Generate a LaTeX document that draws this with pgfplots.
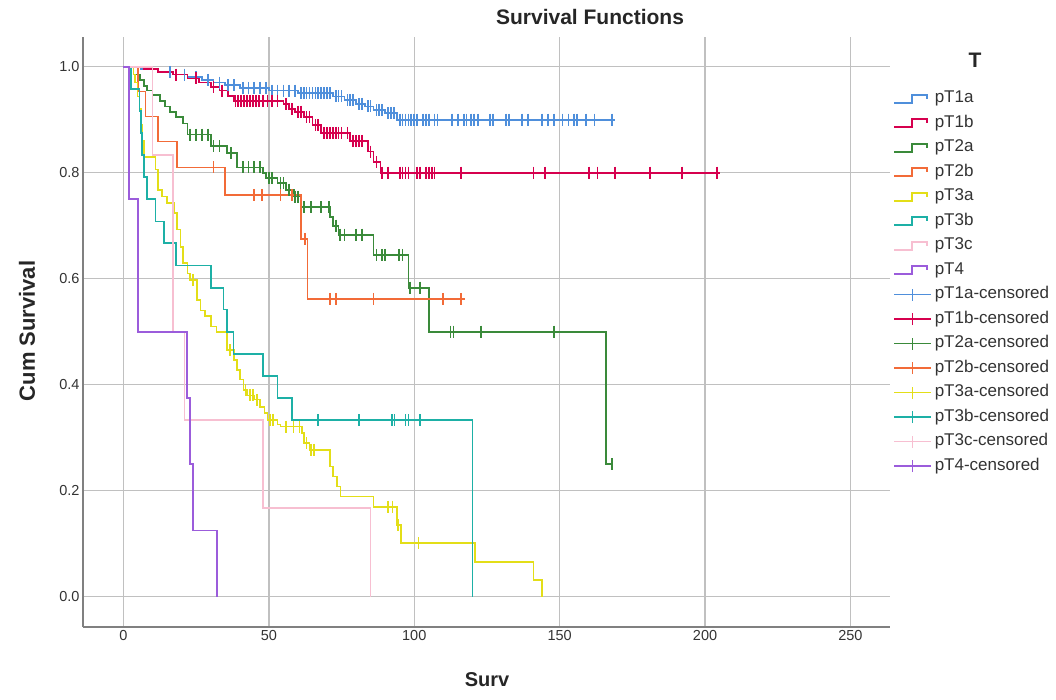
\documentclass[border=0pt]{standalone}
\usepackage{fontspec}
\setmainfont{Liberation Sans}
\usepackage{pgfplots}
\pgfplotsset{compat=1.18}

\definecolor{cTa}{HTML}{4F8FDB}
\definecolor{cTb}{HTML}{D6004E}
\definecolor{cTc}{HTML}{3A8A3A}
\definecolor{cTd}{HTML}{F26B38}
\definecolor{cTe}{HTML}{E3DE18}
\definecolor{cTf}{HTML}{1DB0A6}
\definecolor{cTg}{HTML}{F7BFD1}
\definecolor{cTh}{HTML}{9B5CDB}
\definecolor{gridgray}{HTML}{C0C0C0}
\definecolor{axisgray}{HTML}{808080}

\pgfplotsset{
  km/.style={const plot, line width=1.7pt, mark=none,
    legend image code/.code={\draw[##1] (0pt,-4pt) -- (18pt,-4pt) -- (18pt,4pt) -- (33pt,4pt) -- (33pt,0pt);}},
  censor/.style={only marks, mark=|, mark size=6pt, mark options={line width=1.7pt},
    legend image code/.code={\draw[line width=1.5pt,##1] (0pt,0pt) -- (37pt,0pt); \draw[line width=1.5pt,##1] (18.5pt,-6pt) -- (18.5pt,6pt);}},
}

\begin{document}
\begin{tikzpicture}
\useasboundingbox (0pt,0pt) rectangle (1056pt,-699pt);
\begin{axis}[
  at={(83pt,-627pt)}, anchor=south west,
  scale only axis, width=807pt, height=590pt,
  xmin=-13.9, xmax=263.6, ymin=-0.057, ymax=1.056,
  axis x line*=bottom, axis y line*=left,
  axis line style={-, draw=axisgray, line width=1.5pt},
  xtick={0,50,100,150,200,250},
  ytick={0,0.2,0.4,0.6,0.8,1.0},
  grid=major, major grid style={draw=gridgray, line width=1.4pt},
  major tick length=0pt,
  /pgf/number format/assume math mode=true,
  tick label style={font=\fontsize{14.5}{16}\selectfont, text=black!80},
  yticklabel style={/pgf/number format/.cd, fixed, fixed zerofill, precision=1},
  clip=false,
  legend style={at={(axis description cs:1.0037,0.9085)}, anchor=north west,
    draw=none, fill=none, inner sep=0pt, row sep=9.5pt,
    font=\fontsize{17}{17}\selectfont, text=black!80,
    nodes={inner sep=0pt, text height=11.5pt, text depth=3.5pt},
    /tikz/every odd column/.append style={column sep=3pt}},
  legend cell align=left,
]
% Kaplan-Meier step curves
\addplot[km, cTa] coordinates {(0,1.0) (6,0.995) (12,0.99) (17,0.985) (22,0.98) (27,0.975) (31,0.97) (35,0.965) (40,0.96) (50,0.955) (60,0.95) (72,0.944) (76,0.937) (80,0.93) (83,0.925) (86,0.918) (90,0.912) (94,0.90) (169,0.90)};
\addlegendentry{pT1a}
\addplot[km, cTb] coordinates {(0,1.0) (7,0.995) (12,0.99) (17,0.985) (22,0.978) (26,0.97) (30,0.962) (33,0.955) (36,0.945) (38,0.935) (55,0.93) (57,0.92) (59,0.915) (62,0.905) (65,0.89) (68,0.875) (78,0.86) (84,0.84) (86,0.82) (88.4,0.80) (205,0.80)};
\addlegendentry{pT1b}
\addplot[km, cTc] coordinates {(0,1.0) (3.5,0.985) (5.8,0.975) (7,0.963) (8,0.955) (10,0.947) (12.5,0.935) (14.4,0.925) (16,0.915) (18,0.905) (20.6,0.893) (22,0.872) (30,0.85) (35.7,0.837) (39,0.81) (48,0.80) (49,0.79) (53,0.78) (56,0.768) (58.6,0.755) (61,0.735) (71,0.717) (72,0.70) (74,0.683) (86,0.645) (98,0.583) (105,0.50) (166,0.25) (168,0.25)};
\addlegendentry{pT2a}
\addplot[km, cTd] coordinates {(0,1.0) (5,0.953) (7.6,0.906) (12,0.859) (18.4,0.81) (35,0.758) (61,0.675) (63.3,0.562) (117.6,0.562)};
\addlegendentry{pT2b}
\addplot[km, cTe] coordinates {(0,1.0) (3.5,0.985) (4,0.97) (4.8,0.944) (5.5,0.92) (6,0.89) (6.5,0.86) (7,0.83) (11,0.806) (12,0.768) (13.3,0.755) (15,0.743) (17.3,0.724) (18.5,0.693) (19.6,0.66) (20.6,0.63) (22,0.61) (23,0.598) (25.4,0.56) (26.5,0.54) (28,0.53) (30,0.51) (32,0.50) (35.7,0.465) (38,0.447) (39,0.428) (40,0.41) (41.3,0.39) (42.5,0.38) (45,0.372) (47,0.358) (48.5,0.347) (49.5,0.334) (53,0.325) (54,0.321) (61.5,0.309) (62,0.29) (64,0.277) (71,0.246) (72,0.227) (73.5,0.208) (74.6,0.189) (86,0.17) (94,0.135) (95.5,0.101) (121,0.066) (141,0.032) (144,0)};
\addlegendentry{pT3a}
\addplot[km, cTf] coordinates {(0,1.0) (2.5,0.958) (5.5,0.917) (6,0.875) (6.5,0.833) (7,0.792) (8,0.75) (11,0.708) (14,0.667) (18,0.625) (30,0.583) (34.4,0.542) (35.6,0.50) (37.8,0.458) (48,0.417) (53,0.375) (58,0.333) (120,0)};
\addlegendentry{pT3b}
\addplot[km, cTg] coordinates {(0,1.0) (10,0.833) (17.1,0.5) (21,0.333) (48,0.167) (85,0)};
\addlegendentry{pT3c}
\addplot[km, cTh] coordinates {(0,1.0) (1.8,0.75) (5,0.5) (21.9,0.375) (22.8,0.25) (24,0.125) (32.2,0)};
\addlegendentry{pT4}
% censored observations
\addplot[censor, cTa] coordinates {(16,0.99) (21,0.985) (25,0.98) (29,0.975) (33,0.97) (36,0.965) (38,0.965) (41,0.96) (43,0.96) (45,0.96) (47,0.96) (49,0.96) (51,0.955) (53,0.955) (55,0.955) (57,0.955) (59,0.955) (61,0.95) (62,0.95) (63,0.95) (64,0.95) (65,0.95) (66,0.95) (67,0.95) (68,0.95) (69,0.95) (70,0.95) (71,0.95) (73,0.944) (74,0.944) (75,0.944) (77,0.937) (78,0.937) (79,0.937) (81,0.93) (82,0.93) (84,0.925) (85,0.925) (87,0.918) (88,0.918) (89,0.918) (91,0.912) (92,0.912) (93,0.912) (95,0.90) (96,0.90) (97,0.90) (98,0.90) (99,0.90) (100,0.90) (101,0.90) (103,0.90) (104,0.90) (105,0.90) (107,0.90) (108,0.90) (113,0.90) (115,0.90) (117,0.90) (118,0.90) (119.5,0.90) (120.6,0.90) (122,0.90) (126,0.90) (127,0.90) (131.5,0.90) (132.6,0.90) (137,0.90) (139,0.90) (144,0.90) (146,0.90) (148,0.90) (151,0.90) (153,0.90) (155,0.90) (156,0.90) (159,0.90) (162,0.90) (168,0.90)};
\addlegendentry{pT1a-censored}
\addplot[censor, cTb] coordinates {(18,0.985) (25,0.978) (31,0.962) (34,0.955) (38.5,0.935) (39.5,0.935) (40.5,0.935) (41.5,0.935) (42.5,0.935) (43.5,0.935) (44.5,0.935) (45.5,0.935) (46.5,0.935) (48,0.935) (49.5,0.935) (51,0.935) (53,0.935) (56,0.93) (58,0.92) (60,0.915) (61,0.915) (63,0.905) (64,0.905) (66,0.89) (67,0.89) (69,0.875) (70,0.875) (71,0.875) (72,0.875) (73,0.875) (74,0.875) (75,0.875) (77,0.875) (79,0.86) (80,0.86) (81,0.86) (82,0.86) (85,0.84) (87,0.82) (89,0.80) (91,0.80) (95,0.80) (96,0.80) (97,0.80) (98,0.80) (101,0.80) (102,0.80) (104,0.80) (105,0.80) (106,0.80) (107,0.80) (116,0.80) (141,0.80) (145,0.80) (160,0.80) (163,0.80) (169,0.80) (181,0.80) (192,0.80) (204,0.80)};
\addlegendentry{pT1b-censored}
\addplot[censor, cTc] coordinates {(23,0.872) (25,0.872) (27,0.872) (29,0.872) (31,0.85) (33,0.85) (37,0.837) (41,0.81) (43,0.81) (45,0.81) (47,0.81) (50,0.79) (51,0.79) (54,0.78) (55,0.78) (57,0.768) (59,0.755) (60,0.755) (62,0.735) (64.4,0.735) (67.9,0.735) (70.7,0.735) (73,0.70) (74.5,0.683) (76,0.683) (80,0.683) (82,0.683) (87,0.645) (89,0.645) (90,0.645) (94.7,0.645) (96,0.645) (98.5,0.583) (102,0.583) (112.5,0.50) (113.5,0.50) (123,0.50) (148,0.50) (168,0.25)};
\addlegendentry{pT2a-censored}
\addplot[censor, cTd] coordinates {(31,0.81) (45,0.758) (47.7,0.758) (54,0.758) (58,0.758) (62.5,0.675) (71,0.562) (73,0.562) (86,0.562) (110,0.562) (116,0.562)};
\addlegendentry{pT2b-censored}
\addplot[censor, cTe] coordinates {(24,0.598) (36.7,0.465) (42,0.39) (43.5,0.38) (44.5,0.38) (46,0.372) (50.5,0.334) (51.5,0.334) (56,0.321) (58.5,0.321) (60.5,0.321) (63,0.29) (64.5,0.277) (65.5,0.277) (91,0.17) (92.5,0.17) (94.5,0.135) (101.5,0.101)};
\addlegendentry{pT3a-censored}
\addplot[censor, cTf] coordinates {(67,0.333) (81,0.333) (92.3,0.333) (93.2,0.333) (97,0.333) (98,0.333) (102,0.333)};
\addlegendentry{pT3b-censored}
\addlegendimage{censor, cTg}
\addlegendentry{pT3c-censored}
\addlegendimage{censor, cTh}
\addlegendentry{pT4-censored}
\end{axis}
\node[font=\bfseries\fontsize{21}{23}\selectfont, text=black!85] at (590pt,-17pt) {Survival Functions};
\node[font=\bfseries\fontsize{21}{23}\selectfont, text=black!85] at (975pt,-60pt) {T};
\node[font=\bfseries\fontsize{22}{24}\selectfont, text=black!85, rotate=90] at (27pt,-331pt) {Cum Survival};
\node[font=\bfseries\fontsize{20}{22}\selectfont, text=black!85] at (487pt,-680pt) {Surv};
\end{tikzpicture}
\end{document}
